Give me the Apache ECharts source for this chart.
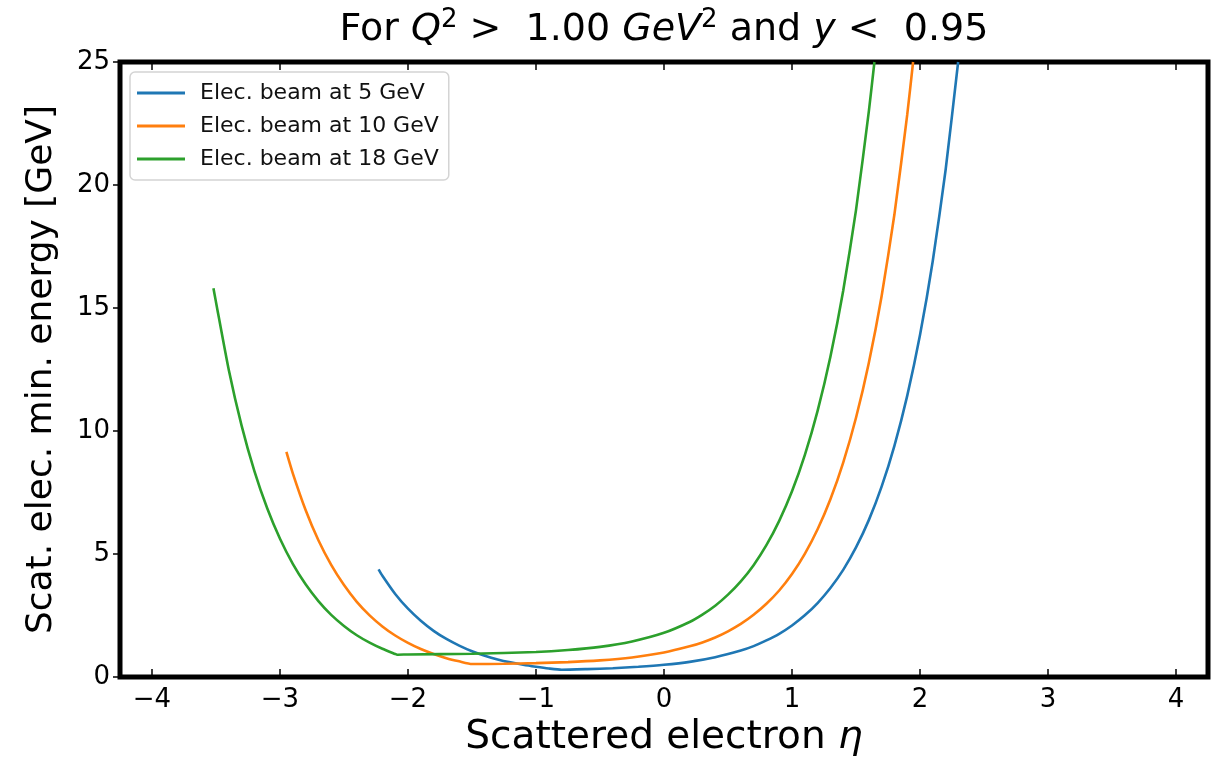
<!DOCTYPE html>
<html>
<head>
<meta charset="utf-8">
<script src="https://cdn.jsdelivr.net/npm/echarts@6.0.0/dist/echarts.min.js"></script>
<style>
  html, body { margin: 0; padding: 0; background: #fff; }
  #chart { width: 1221px; height: 762px; }
</style>
</head>
<body>
<div id="chart"></div>
<script>
// values
var eta5 = [-2.23, -2.2, -2.1, -2.0, -1.9, -1.8, -1.7, -1.6, -1.5, -1.4, -1.3, -1.2, -1.1, -1.0, -0.9, -0.8,
    -0.6, -0.4, -0.2, 0, 0.2, 0.4, 0.6, 0.7, 0.8, 0.9, 1.0, 1.1, 1.2, 1.3, 1.4, 1.5, 1.6, 1.7, 1.8, 1.9, 2.0, 2.1, 2.2, 2.298]
var energy5 = [4.38, 4.12, 3.38, 2.78, 2.29, 1.88, 1.55, 1.28, 1.05, 0.87, 0.72, 0.60, 0.50, 0.42, 0.35, 0.30,
    0.325, 0.36, 0.42, 0.50, 0.62, 0.81, 1.08, 1.26, 1.49, 1.76, 2.10, 2.51, 3.01, 3.62, 4.36, 5.27, 6.38, 7.74, 9.40, 11.43, 13.90, 16.92, 20.61, 25.0]

var eta10 = [-2.95, -2.9, -2.8, -2.7, -2.6, -2.5, -2.4, -2.3, -2.2, -2.1, -2.0, -1.9, -1.8, -1.7, -1.6, -1.5,
    -1.25, -1.0, -0.75, -0.5, -0.25, 0, 0.2, 0.3, 0.4, 0.5, 0.6, 0.7, 0.8, 0.9, 1.0, 1.1, 1.2, 1.3, 1.4, 1.5, 1.6, 1.7, 1.8, 1.9, 1.946]
var energy10 = [9.15, 8.28, 6.79, 5.56, 4.56, 3.74, 3.06, 2.51, 2.06, 1.69, 1.39, 1.14, 0.94, 0.77, 0.64, 0.53,
    0.54, 0.57, 0.61, 0.68, 0.80, 1.00, 1.25, 1.41, 1.61, 1.86, 2.16, 2.53, 2.98, 3.52, 4.19, 5.01, 6.01, 7.23, 8.72, 10.54, 12.77, 15.48, 18.80, 22.85, 25.0]

var eta18 = [-3.52, -3.5, -3.4, -3.3, -3.2, -3.1, -3.0, -2.9, -2.8, -2.7, -2.6, -2.5, -2.4, -2.3, -2.2, -2.1, -2.085,
    -2.0, -1.5, -1.0, -0.75, -0.5, -0.25, 0, 0.2, 0.3, 0.4, 0.5, 0.6, 0.7, 0.8, 0.9, 1.0, 1.1, 1.2, 1.3, 1.4, 1.5, 1.6, 1.644]
var energy18 = [15.8, 15.24, 12.48, 10.22, 8.37, 6.86, 5.62, 4.60, 3.77, 3.09, 2.53, 2.08, 1.70, 1.40, 1.15, 0.94, 0.91,
    0.92, 0.95, 1.02, 1.10, 1.23, 1.45, 1.80, 2.24, 2.54, 2.90, 3.35, 3.89, 4.55, 5.36, 6.35, 7.55, 9.02, 10.82, 13.02, 15.70, 18.98, 22.98, 25.0]

var seriesNames = ['Elec. beam at 5 GeV', 'Elec. beam at 10 GeV', 'Elec. beam at 18 GeV']
var seriesColors = ['#1f77b4', '#ff7f0e', '#2ca02c']
var xTicks = [-4, -3, -2, -1, 0, 1, 2, 3, 4]

var FONT = 'DejaVu Sans'

function pairs(xs, ys) {
    return xs.map(function (x, i) { return [x, ys[i]] })
}

function minusFmt(v) {
    return v < 0 ? '\u2212' + (-v) : String(v)
}

var chart = echarts.init(document.getElementById('chart'), null, { renderer: 'canvas' })

var lines = [pairs(eta5, energy5), pairs(eta10, energy10), pairs(eta18, energy18)]

chart.setOption({
    animation: false,
    backgroundColor: '#fff',
    textStyle: { fontFamily: FONT },
    graphic: [{
        type: 'text',
        x: 664,
        y: 7,
        style: {
            text: '{n|For }{i|Q}{s|2}{n| >  1.00 }{i|GeV}{s|2}{n| and }{i|y}{n| <  0.95}',
            align: 'center',
            verticalAlign: 'top',
            fill: '#000',
            rich: {
                n: { fontFamily: FONT, fontSize: 38, lineHeight: 46, fill: '#000' },
                i: { fontFamily: FONT, fontSize: 38, fontStyle: 'italic', lineHeight: 46, fill: '#000' },
                s: { fontFamily: FONT, fontSize: 26, lineHeight: 30, verticalAlign: 'top', fill: '#000' }
            }
        }
    }],
    grid: {
        left: 120,
        right: 13,
        top: 62,
        bottom: 81,
        show: true,
        borderColor: '#000',
        borderWidth: 5,
        backgroundColor: '#fff'
    },
    legend: {
        data: seriesNames,
        orient: 'vertical',
        left: 130,
        top: 72,
        icon: 'rect',
        itemWidth: 48,
        itemHeight: 3,
        itemGap: 11,
        padding: [10, 10, 10, 7],
        borderColor: '#d4d4d4',
        borderWidth: 1.5,
        borderRadius: 5,
        backgroundColor: 'rgba(255,255,255,0.8)',
        textStyle: { fontFamily: FONT, fontSize: 22, lineHeight: 20, color: '#111', padding: [0, 0, 0, 10] }
    },
    xAxis: [{
        type: 'value',
        position: 'bottom',
        min: -4.25,
        max: 4.25,
        axisLine: { show: false, onZero: false },
        splitLine: { show: false },
        axisTick: { inside: true, length: 8, lineStyle: { color: '#000', width: 1.5 }, customValues: xTicks },
        axisLabel: { fontSize: 26, color: '#000', margin: 10, formatter: minusFmt, customValues: xTicks },
        name: 'Scattered electron {i|η}',
        nameLocation: 'middle',
        nameGap: 38,
        nameTextStyle: {
            fontFamily: FONT, fontSize: 39, color: '#000',
            rich: { i: { fontFamily: FONT, fontSize: 39, fontStyle: 'italic', color: '#000' } }
        }
    }, {
        type: 'value',
        position: 'top',
        min: -4.25,
        max: 4.25,
        axisLine: { show: false, onZero: false },
        splitLine: { show: false },
        axisTick: { inside: true, length: 8, lineStyle: { color: '#000', width: 1.5 }, customValues: xTicks },
        axisLabel: { show: false }
    }],
    yAxis: {
        type: 'value',
        position: 'left',
        min: 0,
        max: 25,
        interval: 5,
        axisLine: { show: false, onZero: false },
        splitLine: { show: false },
        axisTick: { inside: false, length: 7, lineStyle: { color: '#000', width: 1.5 } },
        axisLabel: { fontSize: 26, color: '#000', margin: 10 },
        name: 'Scat. elec. min. energy [GeV]',
        nameLocation: 'middle',
        nameGap: 60,
        nameTextStyle: { fontFamily: FONT, fontSize: 36, color: '#000' }
    },
    series: lines.map(function (d, k) {
        return {
            name: seriesNames[k],
            type: 'line',
            data: d,
            showSymbol: false,
            smooth: 0.2,
            clip: true,
            color: seriesColors[k],
            lineStyle: { width: 2.6, color: seriesColors[k] }
        }
    })
})
</script>
</body>
</html>
